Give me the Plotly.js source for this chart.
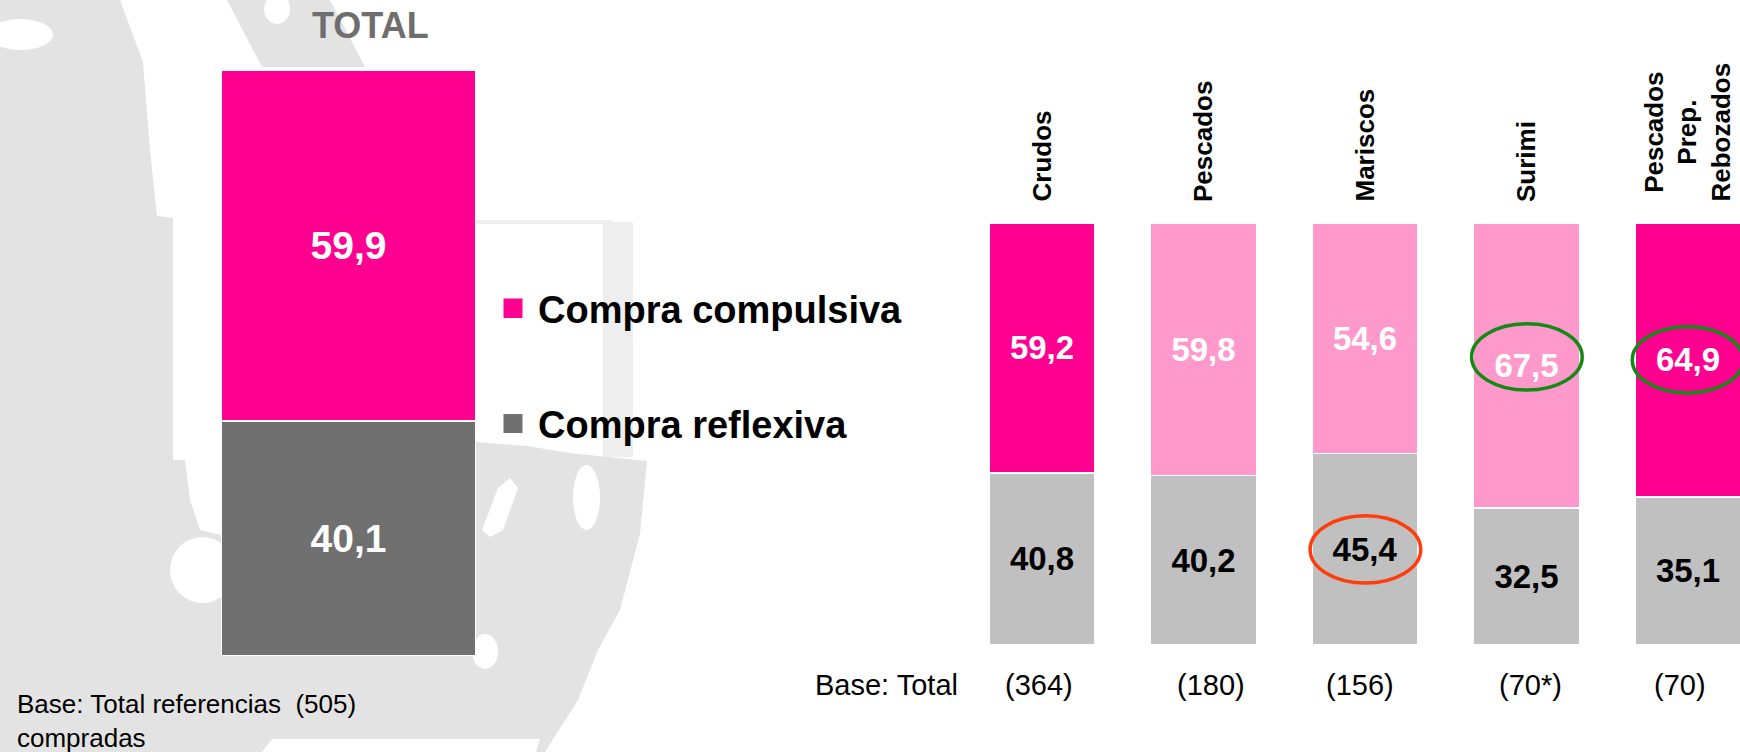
<!DOCTYPE html>
<html><head><meta charset="utf-8">
<script src="https://cdn.plot.ly/plotly-3.0.1.min.js"></script>
<style>html,body{margin:0;padding:0;background:#fff;overflow:hidden}#chart{width:1740px;height:752px}</style>
</head><body><div id="chart"></div>
<script>
// ---------- data ----------
const totalCategory = ['TOTAL'];
const totalCompulsiva = [59.9];
const totalReflexiva = [40.1];
const categories = ['Crudos', 'Pescados', 'Mariscos', 'Surimi', 'Pescados<br>Prep.<br>Rebozados'];
const compulsiva = [59.2, 59.8, 54.6, 67.5, 64.9];
const reflexiva = [40.8, 40.2, 45.4, 32.5, 35.1];
const baseCounts = ['(364)', '(180)', '(156)', '(70*)', '(70)'];
const seriesNames = ['Compra compulsiva', 'Compra reflexiva'];
const totalTitle = 'TOTAL';
const totalBaseText = 'Base: Total referencias\u00a0\u00a0(505)<br>compradas';
const baseText = 'Base: Total';

// ---------- layout helpers ----------
const W = 1740, H = 752;
const FONT = 'Liberation Sans, Arial, sans-serif';
const PINK = '#FF0090', LIGHTPINK = '#FF99CC', DARKGRAY = '#707070', LIGHTGRAY = '#C0C0C0';
const px = x => x / W, py = y => 1 - y / H;
function pathPx(pts) {
  return 'M' + pts.map(p => px(p[0]).toFixed(5) + ',' + py(p[1]).toFixed(5)).join(' L') + ' Z';
}
function polyPx(pts, color) {
  return {type: 'path', xref: 'paper', yref: 'paper', layer: 'below', fillcolor: color, line: {width: 0}, path: pathPx(pts)};
}
function ellPx(x0, y0, x1, y1, color) {
  return {type: 'circle', xref: 'paper', yref: 'paper', x0: px(x0), x1: px(x1), y0: py(y1), y1: py(y0),
          fillcolor: color, line: {width: 0}, layer: 'below'};
}
const BG = '#E3E3E3', BGL = '#EEEEEE', WHITE = '#FFFFFF';

const pitch = 161.5, firstCenter = 1042, barW = 106;
const x2Left = firstCenter - pitch / 2;

const traces = [
  {type: 'bar', name: seriesNames[1], x: totalCategory, y: totalReflexiva, xaxis: 'x', yaxis: 'y', width: 1,
   marker: {color: DARKGRAY, line: {color: '#FFFFFF', width: 1.5}},
   texttemplate: '<b>%{y:.1f}</b>', textposition: 'inside', insidetextanchor: 'middle', textangle: 0,
   textfont: {family: FONT, size: 39, color: '#FFFFFF'}, hoverinfo: 'skip', showlegend: false},
  {type: 'bar', name: seriesNames[0], x: totalCategory, y: totalCompulsiva, xaxis: 'x', yaxis: 'y', width: 1,
   marker: {color: PINK, line: {color: '#FFFFFF', width: 1.5}},
   texttemplate: '<b>%{y:.1f}</b>', textposition: 'inside', insidetextanchor: 'middle', textangle: 0,
   textfont: {family: FONT, size: 39, color: '#FFFFFF'}, hoverinfo: 'skip', showlegend: false},
  {type: 'bar', name: seriesNames[1], x: categories, y: reflexiva, xaxis: 'x2', yaxis: 'y2', width: barW / pitch,
   marker: {color: LIGHTGRAY, line: {color: '#FFFFFF', width: 1.5}},
   texttemplate: '<b>%{y:.1f}</b>', textposition: 'inside', insidetextanchor: 'middle', textangle: 0,
   textfont: {family: FONT, size: 33, color: '#000000'}, hoverinfo: 'skip', showlegend: false},
  {type: 'bar', name: seriesNames[0], x: categories, y: compulsiva, xaxis: 'x2', yaxis: 'y2', width: barW / pitch,
   marker: {color: [PINK, LIGHTPINK, LIGHTPINK, LIGHTPINK, PINK], line: {color: '#FFFFFF', width: 1.5}},
   texttemplate: '<b>%{y:.1f}</b>', textposition: 'inside', insidetextanchor: 'middle', textangle: 0,
   textfont: {family: FONT, size: 33, color: '#FFFFFF'}, hoverinfo: 'skip', showlegend: false}
];

// decorative faded background (left panel)
const shapes = [
  polyPx([[0,0],[120,0],[143,62],[150,150],[157,216],[173,218],[173,460],[185,460],[190,500],[200,530],[221,535],
          [476,442],[527,446],[570,453],[607,457],[647,461],[640,534],[620,610],[598,650],[578,700],[545,752],[0,752]], BG),
  polyPx([[227,0],[330,0],[365,67],[262,67]], BG),
  ellPx(264, -6, 290, 24, WHITE),
  polyPx([[476,220],[612,220],[612,224],[476,224]], BGL),
  polyPx([[603,222],[633,222],[633,457],[603,457]], BGL),
  ellPx(-12, 19, 53, 50, WHITE),
  ellPx(170, 537, 235, 603, WHITE),
  polyPx([[482,530],[498,488],[510,478],[518,488],[503,530],[490,537]], WHITE),
  ellPx(573, 465, 600, 530, WHITE),
  ellPx(472, 634, 498, 669, WHITE),
  polyPx([[262,752],[272,739],[540,739],[536,752]], WHITE),
  // legend squares
  {type: 'rect', xref: 'paper', yref: 'paper', x0: px(503.5), x1: px(522.5), y0: py(318), y1: py(298.5),
   fillcolor: PINK, line: {width: 0}},
  {type: 'rect', xref: 'paper', yref: 'paper', x0: px(503.5), x1: px(522.5), y0: py(433), y1: py(414),
   fillcolor: DARKGRAY, line: {width: 0}},
  // highlight ellipses
  {type: 'circle', xref: 'x2', yref: 'y2', x0: 2.66, x1: 3.345, y0: 60.4, y1: 76.1,
   line: {color: '#138A13', width: 3.5}, fillcolor: 'rgba(0,0,0,0)', layer: 'above'},
  {type: 'circle', xref: 'x2', yref: 'y2', x0: 3.655, x1: 4.34, y0: 59.7, y1: 75.4,
   line: {color: '#138A13', width: 3.5}, fillcolor: 'rgba(0,0,0,0)', layer: 'above'},
  {type: 'circle', xref: 'x2', yref: 'y2', x0: 1.66, x1: 2.345, y0: 14.7, y1: 30.6,
   line: {color: '#FF3C0A', width: 3.5}, fillcolor: 'rgba(0,0,0,0)', layer: 'above'}
];

const countShift = [-3, 7, -5, 4, -8];
const annotations = [
  {xref: 'paper', yref: 'paper', x: px(370), y: py(26), xanchor: 'center', yanchor: 'middle', showarrow: false,
   text: '<b>' + totalTitle + '</b>', font: {family: FONT, size: 36, color: '#6E6E6E'}},
  {xref: 'paper', yref: 'paper', x: px(536), y: py(310), xanchor: 'left', yanchor: 'middle', showarrow: false,
   text: '<b>' + seriesNames[0] + '</b>', font: {family: FONT, size: 38, color: '#000000'}},
  {xref: 'paper', yref: 'paper', x: px(536), y: py(425), xanchor: 'left', yanchor: 'middle', showarrow: false,
   text: '<b>' + seriesNames[1] + '</b>', font: {family: FONT, size: 38, color: '#000000'}},
  {xref: 'paper', yref: 'paper', x: px(15), y: py(721), xanchor: 'left', yanchor: 'middle', showarrow: false, align: 'left',
   text: totalBaseText, font: {family: FONT, size: 26, color: '#000000'}},
  {xref: 'paper', yref: 'paper', x: px(813), y: py(685), xanchor: 'left', yanchor: 'middle', showarrow: false,
   text: baseText, font: {family: FONT, size: 29, color: '#000000'}}
];
categories.forEach((c, i) => {
  annotations.push({xref: 'x2', yref: 'paper', x: c, y: py(204), xanchor: 'center', yanchor: 'bottom',
    textangle: -90, showarrow: false, align: 'center', text: '<b>' + c + '</b>',
    font: {family: FONT, size: 26, color: '#000000'}});
  annotations.push({xref: 'x2', yref: 'paper', x: c, y: py(685), xanchor: 'center', yanchor: 'middle',
    xshift: countShift[i], showarrow: false, text: baseCounts[i],
    font: {family: FONT, size: 29, color: '#000000'}});
});

const layout = {
  width: W, height: H, autosize: false,
  margin: {l: 0, r: 0, t: 0, b: 0, pad: 0},
  paper_bgcolor: '#FFFFFF', plot_bgcolor: 'rgba(0,0,0,0)',
  barmode: 'stack', separators: ',.', showlegend: false,
  font: {family: FONT},
  xaxis: {domain: [px(221), px(476)], range: [-0.5, 0.5], visible: false, fixedrange: true, type: 'category'},
  yaxis: {domain: [py(656), py(70)], range: [0, 100], visible: false, fixedrange: true},
  xaxis2: {domain: [px(x2Left), 1], range: [-0.5, -0.5 + (W - x2Left) / pitch], visible: false, fixedrange: true,
           type: 'category', anchor: 'y2'},
  yaxis2: {domain: [py(645), py(223)], range: [0, 100], visible: false, fixedrange: true, anchor: 'x2'},
  shapes: shapes,
  annotations: annotations
};

Plotly.newPlot('chart', traces, layout, {displayModeBar: false, staticPlot: true});
</script>
</body></html>
